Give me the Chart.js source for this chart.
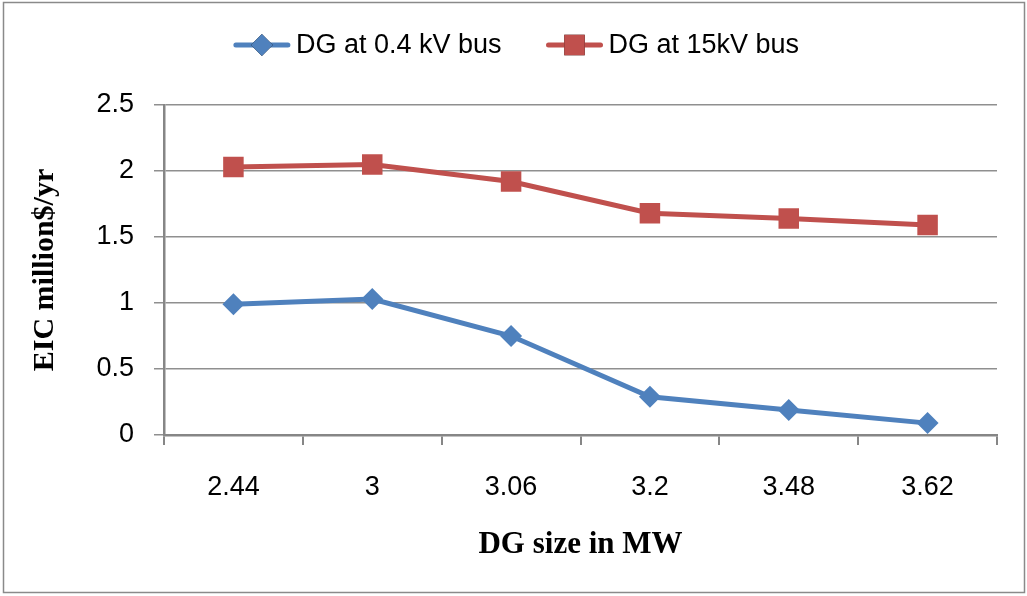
<!DOCTYPE html>
<html>
<head>
<meta charset="utf-8">
<script src="https://cdn.jsdelivr.net/npm/chart.js@4/dist/chart.umd.min.js"></script>
<style>
  html, body { margin: 0; padding: 0; background: #fff; }
  #wrap { width: 1027px; height: 596px; position: relative; }
</style>
</head>
<body>
<div id="wrap"><canvas id="c" width="1027" height="596"></canvas></div>
<script>
// DG size (MW) on the category axis
const categories = ['2.44', '3', '3.06', '3.2', '3.48', '3.62'];
// Expected interruption cost, million $/yr
const eicBus04 = [0.99, 1.03, 0.75, 0.29, 0.19, 0.09];
const eicBus15 = [2.03, 2.05, 1.92, 1.68, 1.64, 1.59];
const seriesNames = ['DG at 0.4 kV bus', 'DG at 15kV bus'];
const yTicks = [0, 0.5, 1, 1.5, 2, 2.5];

const BLUE = '#4F81BD';
const RED = '#C0504D';
const AXIS = '#868686';
const GRID = '#8f8f8f';
const SANS = '"Liberation Sans", Arial, sans-serif';
const SERIF = '"Liberation Serif", "Times New Roman", serif';

// Line-with-marker legend drawn above the plot
const lineLegend = {
  id: 'lineLegend',
  afterDraw(chart) {
    const ctx = chart.ctx;
    const cy = 45;
    const sym = 56, gapText = 6, gapItem = 45;
    ctx.save();
    ctx.font = '27px ' + SANS;
    ctx.textBaseline = 'middle';
    ctx.fillStyle = '#000';
    const items = chart.data.datasets.map(ds => ({
      text: ds.label, color: ds.borderColor, style: ds.pointStyle, r: ds.pointRadius,
      w: ctx.measureText(ds.label).width
    }));
    let total = 0;
    items.forEach((it, i) => { total += sym + gapText + it.w + (i ? gapItem : 0); });
    let x = chart.width / 2 - total / 2 + 3;
    items.forEach(it => {
      ctx.strokeStyle = it.color;
      ctx.lineWidth = 5;
      ctx.lineCap = 'round';
      ctx.beginPath();
      ctx.moveTo(x + 2, cy);
      ctx.lineTo(x + sym - 2, cy);
      ctx.stroke();
      Chart.helpers.drawPoint(ctx, {
        pointStyle: it.style, radius: it.r, borderWidth: 0, rotation: 0
      }, x + sym / 2, cy);
      ctx.fillStyle = it.color;
      ctx.fill();
      ctx.fillStyle = '#000';
      ctx.fillText(it.text, x + sym + gapText, cy + 1);
      x += sym + gapText + it.w + gapItem;
    });
    ctx.restore();
  }
};

// Outer frame around the chart
const frame = {
  id: 'frame',
  afterDraw(chart) {
    const ctx = chart.ctx;
    ctx.save();
    ctx.strokeStyle = '#8a8a8a';
    ctx.lineWidth = 1.5;
    ctx.strokeRect(3.5, 2.5, chart.width - 6, chart.height - 6);
    ctx.restore();
  }
};

new Chart(document.getElementById('c'), {
  type: 'line',
  data: {
    labels: categories,
    datasets: [
      {
        label: seriesNames[0],
        data: eicBus04,
        borderColor: BLUE,
        backgroundColor: BLUE,
        borderWidth: 5,
        pointStyle: 'rectRot',
        pointRadius: 11,
        pointBorderWidth: 0,
        tension: 0
      },
      {
        label: seriesNames[1],
        data: eicBus15,
        borderColor: RED,
        backgroundColor: RED,
        borderWidth: 5,
        pointStyle: 'rect',
        pointRadius: 14.5,
        pointBorderWidth: 0,
        tension: 0
      }
    ]
  },
  options: {
    responsive: false,
    animation: false,
    devicePixelRatio: 1,
    layout: { padding: { top: 105, right: 30, bottom: 0, left: 0 } },
    plugins: {
      legend: { display: false },
      tooltip: { enabled: false }
    },
    scales: {
      x: {
        offset: true,
        grid: {
          offset: true,
          drawOnChartArea: false,
          drawTicks: true,
          tickLength: 10,
          color: AXIS,
          lineWidth: 2
        },
        border: { color: AXIS, width: 2.5 },
        ticks: {
          font: { family: SANS, size: 27 },
          color: '#000',
          padding: 26,
          maxRotation: 0
        },
        title: {
          display: true,
          text: 'DG size in MW',
          font: { family: SERIF, size: 31, weight: 'bold' },
          color: '#000',
          padding: { top: 0, bottom: 32 }
        },
        afterFit(scale) { scale.height = 161; }
      },
      y: {
        min: 0,
        max: 2.5,
        afterBuildTicks(scale) { scale.ticks = yTicks.map(v => ({ value: v })); },
        grid: {
          color: GRID,
          lineWidth: 1.5,
          drawTicks: true,
          tickLength: 10
        },
        border: { color: AXIS, width: 2.5 },
        ticks: {
          font: { family: SANS, size: 27 },
          color: '#000',
          padding: 20,
          callback: v => String(+Number(v).toFixed(1))
        },
        title: {
          display: true,
          text: 'EIC million$/yr',
          font: { family: SERIF, size: 30, weight: 'bold' },
          color: '#000',
          padding: { top: 27, bottom: 0 }
        },
        afterFit(scale) { scale.width = 164; }
      }
    }
  },
  plugins: [lineLegend, frame]
});
</script>
</body>
</html>
